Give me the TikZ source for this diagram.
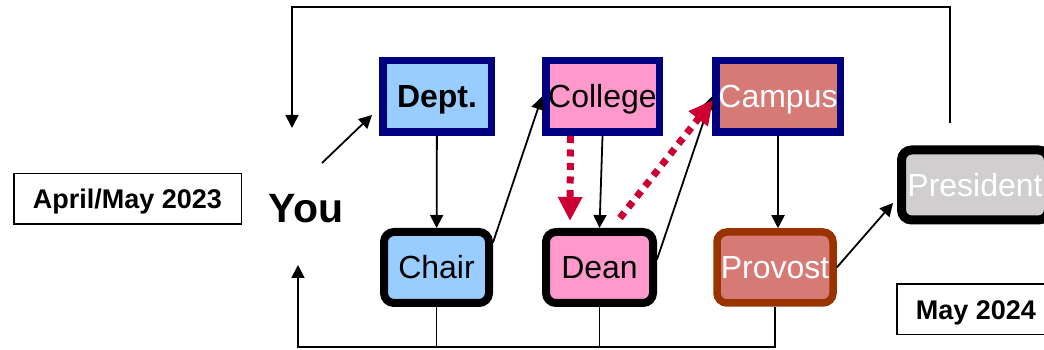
\documentclass[tikz,border=0pt]{standalone}
\usepackage{fontspec}
\setmainfont{Liberation Sans}
\usepackage{tikz}
\usetikzlibrary{arrows.meta,calc,positioning}
\definecolor{navy}{HTML}{000080}
\definecolor{skyblue}{HTML}{99CCFF}
\definecolor{rosepink}{HTML}{FF99CC}
\definecolor{dustyred}{HTML}{D67A76}
\definecolor{rust}{HTML}{993300}
\definecolor{presgray}{HTML}{D0CECE}
\definecolor{alertred}{HTML}{CC0033}

\begin{document}
\begin{tikzpicture}[x=1pt,y=1pt,
  boxtext/.style={inner sep=0pt,text height=23pt,text depth=0pt,font=\fontsize{32}{38}\selectfont},
  unit/.style={boxtext,draw=navy,line width=7.5pt,minimum height=71.5pt},
  person/.style={boxtext,draw=black,rounded corners=10pt,line width=8pt,minimum height=71pt},
  datebox/.style={draw,line width=1.5pt,minimum height=50.5pt,inner sep=0pt,text height=19.3pt,text depth=0pt,font=\bfseries\fontsize{27}{32}\selectfont},
  link/.style={line width=1.8pt},
  arr/.style={link,-{Triangle[length=13pt,width=13pt]}},
  redarr/.style={alertred,line width=7pt,dash pattern=on 7pt off 6.5pt,-{Triangle[length=24pt,width=23pt]}}]
  \clip (0,0) rectangle (1044,350);
  \fill[white] (0,0) rectangle (1044,350);
  % top row
  \node[unit,fill=skyblue,minimum width=108.5pt,font=\bfseries\fontsize{32}{38}\selectfont] (dept) at (437,253.5) {Dept.};
  \node[unit,fill=rosepink,minimum width=113.5pt] (college) at (602.5,253.5) {College};
  \node[unit,fill=dustyred,text=white,minimum width=124.5pt] (campus) at (778,253.5) {Campus};
  % bottom row
  \node[person,fill=skyblue,minimum width=105pt] (chair) at (436.5,82.5) {Chair};
  \node[person,fill=rosepink,minimum width=107pt] (dean) at (599.5,82.5) {Dean};
  \node[person,draw=rust,line width=7.5pt,fill=dustyred,text=white,minimum width=116pt] (provost) at (775,82.5) {Provost};
  \node[person,line width=9pt,fill=presgray,text=white,minimum width=147pt,minimum height=70pt] (president) at (975,165) {President};
  \node[inner sep=0pt,text height=29.5pt,text depth=0pt,font=\bfseries\fontsize{41}{48}\selectfont] (you) at (306,142) {You};
  \node[datebox,minimum width=227.5pt] (start) at (127.5,151) {April/May 2023};
  \node[datebox,minimum width=158.5pt] (finish) at (976,40.5) {May 2024};
  \coordinate (back) at (950,227); \coordinate (youtop) at (292,222); \coordinate (youbot) at (298,85);
  % connectors
  \draw[arr] ([shift={(16,45)}]you.center) -- ([shift={(-7,21)}]dept.south west);
  \draw[arr] (dept) -- (chair);
  \draw[arr] ([yshift=25]chair.east) -- (college.west);
  \draw[arr] (college.south) -- (dean.north);
  \draw[arr] ([yshift=8]dean.east) -- (campus.west);
  \draw[arr] (campus.south) -- (campus.south |- provost.north);
  \draw[arr] (provost.east) -- ([shift={(-4,-18)}]president.west);
  \draw[redarr] ([xshift=-32]college.south) -- ([shift={(-29.5,7)}]dean.north);
  \draw[redarr] ([shift={(20.5,10)}]dean.north) -- ([shift={(1,-3.5)}]campus.west);
  % feedback lines
  \draw[arr] (back) -- (950,343) -| (youtop);
  \draw[arr] (provost.south) -- ++(0,-40) -| (youbot);
  \draw[link] (chair.south) -- ++(0,-40);
  \draw[link] (dean.south) -- ++(0,-40);
\end{tikzpicture}
\end{document}
